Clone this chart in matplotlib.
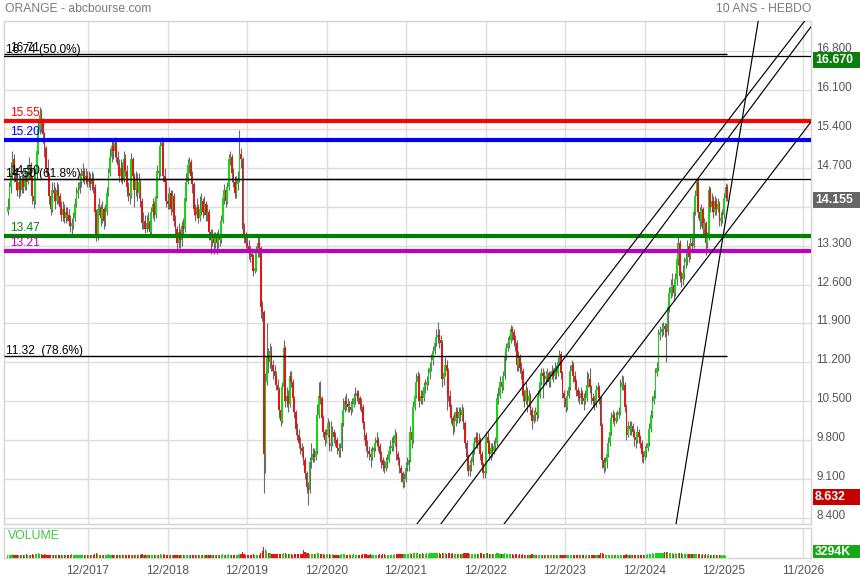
import numpy as np
import matplotlib
matplotlib.use("Agg")
import matplotlib.pyplot as plt
import matplotlib.transforms as mtransforms
from matplotlib.patches import Rectangle

plt.rcParams['font.family'] = ['Liberation Sans', 'DejaVu Sans']

# ---- weekly ORANGE quotes (EUR) ----
first_open = 13.90
close = [
    14.00, 14.35, 14.60, 14.85, 14.60, 14.45, 14.30, 14.45, 14.30, 14.50,
    14.35, 14.55, 14.45, 14.60, 14.75, 14.50, 14.20, 14.10, 14.60, 15.00,
    15.40, 15.65, 15.55, 15.30, 15.05, 14.70, 14.55, 14.20, 13.95, 14.30,
    14.25, 14.10, 14.30, 14.20, 14.00, 13.85, 13.95, 13.80, 13.90, 13.85,
    13.75, 13.65, 13.70, 13.80, 14.05, 14.25, 14.30, 14.45, 14.55, 14.65,
    14.50, 14.55, 14.45, 14.50, 14.40, 14.50, 14.35, 13.90, 13.45, 13.95,
    14.00, 13.80, 13.95, 13.75, 13.90, 14.25, 14.60, 14.90, 15.10, 15.00,
    15.15, 14.90, 14.75, 14.55, 14.70, 14.50, 14.85, 14.65, 14.35, 14.25,
    14.20, 14.85, 14.55, 14.30, 14.50, 14.25, 14.45, 14.10, 13.70, 13.75,
    13.60, 13.70, 13.75, 13.55, 13.90, 14.05, 13.85, 14.20, 14.65, 14.60,
    15.10, 15.15, 14.55, 14.45, 14.10, 14.05, 14.25, 13.95, 14.20, 13.75,
    13.60, 13.35, 13.55, 13.40, 13.65, 13.60, 14.15, 14.45, 14.75, 14.80,
    14.55, 14.40, 13.95, 13.85, 14.00, 13.80, 13.95, 14.10, 13.90, 14.05,
    13.85, 13.90, 13.55, 13.40, 13.50, 13.35, 13.45, 13.35, 13.50, 13.40,
    13.75, 14.15, 14.30, 14.10, 14.35, 14.85, 14.90, 14.60, 14.45, 14.25,
    14.40, 14.50, 14.95, 14.85, 13.60, 13.45, 13.35, 13.30, 13.20, 13.15,
    13.10, 12.85, 12.90, 13.20, 13.35, 13.25, 12.20, 12.10, 9.55, 10.85,
    11.30, 11.20, 11.40, 11.15, 11.05, 10.95, 10.80, 10.70, 10.35, 10.15,
    10.75, 11.45, 10.50, 10.60, 10.45, 10.95, 10.85, 10.55, 10.30, 10.00,
    9.90, 9.75, 9.65, 9.60, 9.45, 9.20, 8.95, 8.90, 9.40, 9.45,
    9.55, 9.50, 9.60, 10.25, 10.60, 10.55, 10.20, 9.95, 9.80, 9.90,
    10.10, 9.70, 9.75, 9.95, 9.85, 9.80, 9.65, 9.60, 9.65, 10.10,
    10.35, 10.50, 10.45, 10.40, 10.40, 10.35, 10.45, 10.55, 10.60, 10.65,
    10.55, 10.45, 10.40, 10.10, 9.90, 9.70, 9.60, 9.55, 9.50, 9.60,
    9.65, 9.75, 9.80, 9.70, 9.55, 9.45, 9.35, 9.30, 9.40, 9.45,
    9.60, 9.65, 9.70, 9.75, 9.90, 9.55, 9.45, 9.30, 9.20, 9.05,
    9.10, 9.30, 9.35, 9.45, 9.95, 9.80, 10.40, 10.60, 10.85, 10.95,
    10.50, 10.60, 10.55, 10.75, 10.80, 10.85, 11.00, 11.10, 11.25, 11.40,
    11.55, 11.65, 11.70, 11.60, 11.55, 10.90, 11.00, 11.15, 11.05, 10.60,
    10.40, 10.20, 10.05, 10.15, 10.30, 10.20, 10.30, 10.25, 10.35, 10.10,
    9.75, 9.50, 9.25, 9.35, 9.40, 9.60, 9.75, 9.85, 9.75, 9.80,
    9.55, 9.35, 9.20, 9.25, 9.85, 9.75, 9.55, 9.65, 9.60, 9.70,
    9.75, 10.55, 10.60, 10.85, 10.75, 10.95, 11.30, 11.45, 11.55, 11.60,
    11.80, 11.75, 11.60, 11.55, 11.15, 11.30, 11.10, 11.05, 10.60, 10.50,
    10.70, 10.50, 10.60, 10.35, 10.15, 10.25, 10.30, 10.25, 10.60, 10.85,
    11.00, 10.95, 10.90, 10.95, 11.00, 10.85, 10.95, 11.05, 10.95, 11.10,
    11.00, 11.20, 11.35, 11.00, 10.65, 10.55, 10.40, 10.60, 10.75, 11.05,
    11.15, 10.95, 10.85, 10.70, 10.60, 10.55, 10.65, 10.55, 10.50, 10.55,
    10.80, 10.90, 10.75, 10.55, 10.50, 10.45, 10.70, 10.75, 10.55, 10.05,
    9.45, 9.30, 9.40, 9.55, 9.75, 9.95, 10.20, 10.25, 10.15, 10.20,
    10.25, 10.30, 10.75, 10.85, 10.80, 10.40, 9.90, 10.05, 10.00, 10.05,
    9.95, 9.85, 9.80, 9.95, 9.85, 9.75, 9.55, 9.50, 9.60, 9.65,
    9.75, 10.00, 10.25, 10.50, 10.60, 11.00, 11.10, 11.70, 11.75, 11.80,
    11.85, 11.80, 11.75, 12.20, 12.45, 12.55, 12.60, 12.45, 12.70, 13.05,
    13.35, 12.75, 12.70, 12.80, 13.00, 13.05, 13.30, 13.10, 13.35, 13.30,
    13.90, 14.20, 14.45, 13.90, 13.75, 13.95, 13.60, 13.70, 13.35, 13.45,
    14.30, 14.00, 14.10, 13.90, 14.10, 13.95, 14.05, 13.75, 13.80, 13.85,
    14.15, 14.35, 14.155,
]
high = [
    14.15, 14.45, 14.80, 15.00, 14.95, 14.70, 14.55, 14.60, 14.55, 14.65,
    14.60, 14.70, 14.65, 14.75, 14.90, 14.80, 14.55, 14.30, 14.70, 15.10,
    15.55, 15.79, 15.75, 15.60, 15.35, 15.10, 14.85, 14.60, 14.25, 14.45,
    14.45, 14.35, 14.45, 14.40, 14.25, 14.10, 14.10, 14.05, 14.00, 14.00,
    13.95, 13.85, 13.80, 13.90, 14.15, 14.35, 14.45, 14.60, 14.70, 14.78,
    14.70, 14.70, 14.65, 14.65, 14.60, 14.65, 14.60, 14.40, 13.95, 14.05,
    14.15, 14.05, 14.10, 14.00, 14.05, 14.35, 14.70, 15.05, 15.20, 15.22,
    15.25, 15.20, 15.00, 14.85, 14.85, 14.80, 15.00, 14.95, 14.75, 14.45,
    14.40, 14.97, 14.90, 14.60, 14.65, 14.60, 14.60, 14.50, 14.15, 13.90,
    13.85, 13.85, 13.90, 13.80, 14.00, 14.15, 14.10, 14.30, 14.75, 14.80,
    15.20, 15.26, 15.20, 14.70, 14.50, 14.25, 14.35, 14.30, 14.30, 14.25,
    13.85, 13.65, 13.70, 13.60, 13.75, 13.80, 14.25, 14.60, 14.85, 14.90,
    14.85, 14.65, 14.45, 14.05, 14.15, 14.05, 14.20, 14.25, 14.15, 14.20,
    14.10, 14.05, 13.95, 13.60, 13.60, 13.55, 13.55, 13.55, 13.60, 13.60,
    13.85, 14.25, 14.40, 14.35, 14.45, 14.95, 15.00, 14.95, 14.70, 14.55,
    14.55, 14.65, 15.38, 15.05, 14.90, 13.70, 13.55, 13.45, 13.40, 13.30,
    13.25, 13.15, 13.05, 13.30, 13.50, 13.45, 13.30, 12.30, 12.15, 11.00,
    11.90, 11.45, 11.55, 11.50, 11.25, 11.15, 11.05, 10.90, 10.75, 10.45,
    10.85, 11.60, 11.50, 10.75, 10.70, 11.05, 11.05, 10.90, 10.60, 10.35,
    10.10, 10.00, 9.85, 9.75, 9.70, 9.50, 9.25, 9.05, 9.50, 9.75,
    9.65, 9.65, 9.80, 10.45, 10.85, 10.87, 10.60, 10.25, 10.00, 10.00,
    10.20, 10.15, 10.15, 10.05, 10.00, 9.95, 9.85, 9.75, 9.75, 10.20,
    10.55, 10.60, 10.65, 10.55, 10.50, 10.50, 10.55, 10.65, 10.75, 10.70,
    10.70, 10.60, 10.55, 10.45, 10.15, 9.95, 9.80, 9.70, 9.65, 9.70,
    9.75, 9.85, 9.95, 9.85, 9.75, 9.60, 9.50, 9.45, 9.50, 9.55,
    9.70, 9.80, 9.85, 9.90, 10.00, 9.95, 9.60, 9.50, 9.35, 9.25,
    9.20, 9.40, 9.50, 9.55, 10.05, 10.00, 10.50, 10.70, 11.00, 11.05,
    11.00, 10.70, 10.70, 10.85, 10.90, 10.95, 11.10, 11.20, 11.35, 11.50,
    11.65, 11.80, 11.93, 11.80, 11.70, 11.60, 11.15, 11.30, 11.25, 11.10,
    10.70, 10.45, 10.25, 10.30, 10.40, 10.40, 10.40, 10.40, 10.45, 10.40,
    10.15, 9.80, 9.55, 9.45, 9.50, 9.70, 9.85, 9.95, 9.95, 9.92,
    9.85, 9.60, 9.40, 9.35, 9.95, 9.95, 9.80, 9.75, 9.75, 9.80,
    9.85, 10.65, 10.75, 10.95, 10.95, 11.05, 11.40, 11.55, 11.65, 11.70,
    11.87, 11.85, 11.80, 11.70, 11.60, 11.40, 11.35, 11.20, 11.10, 10.70,
    10.85, 10.75, 10.70, 10.65, 10.40, 10.35, 10.40, 10.40, 10.70, 10.95,
    11.10, 11.10, 11.05, 11.05, 11.10, 11.05, 11.05, 11.15, 11.10, 11.20,
    11.15, 11.30, 11.42, 11.40, 11.05, 10.70, 10.60, 10.70, 10.85, 11.15,
    11.25, 11.20, 11.05, 10.90, 10.75, 10.70, 10.75, 10.70, 10.65, 10.70,
    11.05, 11.00, 11.10, 10.80, 10.65, 10.60, 10.80, 10.85, 10.80, 10.60,
    10.10, 9.50, 9.50, 9.65, 9.85, 10.05, 10.30, 10.35, 10.30, 10.30,
    10.35, 10.40, 10.90, 10.98, 10.95, 10.85, 10.45, 10.15, 10.15, 10.15,
    10.10, 10.00, 9.95, 10.05, 10.00, 9.90, 9.80, 9.60, 9.70, 9.75,
    9.85, 10.10, 10.35, 10.60, 10.70, 11.10, 11.20, 11.80, 11.85, 11.90,
    11.92, 11.90, 11.90, 12.30, 12.55, 12.70, 12.80, 12.65, 12.80, 13.15,
    13.45, 13.40, 12.85, 12.95, 13.10, 13.20, 13.40, 13.35, 13.45, 13.45,
    14.00, 14.30, 14.52, 14.50, 14.00, 14.05, 14.00, 13.80, 13.75, 13.55,
    14.37, 14.35, 14.25, 14.20, 14.20, 14.15, 14.15, 14.10, 13.90, 13.95,
    14.25, 14.42, 14.40,
]
low = [
    13.85, 13.95, 14.25, 14.50, 14.45, 14.30, 14.20, 14.15, 14.20, 14.25,
    14.25, 14.30, 14.30, 14.40, 14.50, 14.35, 14.05, 13.98, 14.05, 14.50,
    14.95, 15.30, 15.35, 15.15, 14.90, 14.60, 14.40, 14.05, 13.85, 13.90,
    14.10, 13.95, 14.05, 14.05, 13.90, 13.75, 13.75, 13.70, 13.70, 13.75,
    13.65, 13.55, 13.50, 13.60, 13.75, 14.00, 14.15, 14.25, 14.35, 14.45,
    14.40, 14.40, 14.35, 14.35, 14.30, 14.30, 14.25, 13.80, 13.38, 13.40,
    13.85, 13.65, 13.70, 13.60, 13.65, 13.85, 14.20, 14.55, 14.80, 14.85,
    14.90, 14.80, 14.60, 14.45, 14.45, 14.40, 14.45, 14.55, 14.20, 14.10,
    14.05, 14.15, 14.40, 14.00, 14.20, 14.10, 14.15, 14.00, 13.60, 13.60,
    13.52, 13.55, 13.60, 13.48, 13.50, 13.80, 13.75, 13.80, 14.15, 14.50,
    14.55, 15.00, 14.45, 14.35, 14.00, 13.95, 13.95, 13.85, 13.90, 13.65,
    13.45, 13.17, 13.25, 13.25, 13.30, 13.50, 13.55, 14.10, 14.40, 14.60,
    14.45, 14.25, 13.85, 13.75, 13.80, 13.70, 13.75, 13.85, 13.80, 13.85,
    13.75, 13.75, 13.40, 13.15, 13.30, 13.14, 13.25, 13.15, 13.25, 13.30,
    13.35, 13.70, 14.05, 14.00, 14.05, 14.30, 14.75, 14.45, 14.35, 14.15,
    14.15, 14.30, 14.45, 14.70, 13.50, 13.35, 13.25, 13.20, 13.05, 13.00,
    12.95, 12.75, 12.80, 12.85, 13.10, 13.10, 12.00, 11.95, 8.85, 9.20,
    10.80, 11.00, 11.10, 11.05, 10.90, 10.85, 10.70, 10.55, 10.20, 10.05,
    10.10, 10.70, 10.40, 10.40, 10.30, 10.40, 10.75, 10.40, 10.20, 9.90,
    9.80, 9.65, 9.55, 9.50, 9.35, 9.10, 8.85, 8.632, 8.85, 9.30,
    9.40, 9.40, 9.45, 9.55, 10.20, 10.45, 10.10, 9.85, 9.70, 9.75,
    9.85, 9.60, 9.60, 9.70, 9.75, 9.70, 9.55, 9.50, 9.50, 9.60,
    10.05, 10.30, 10.35, 10.30, 10.30, 10.25, 10.30, 10.40, 10.45, 10.50,
    10.45, 10.35, 10.30, 10.00, 9.80, 9.60, 9.50, 9.45, 9.32, 9.45,
    9.50, 9.60, 9.70, 9.60, 9.40, 9.30, 9.25, 9.20, 9.25, 9.30,
    9.40, 9.55, 9.60, 9.60, 9.70, 9.45, 9.35, 9.20, 9.05, 8.94,
    8.95, 9.05, 9.25, 9.25, 9.40, 9.65, 9.75, 10.35, 10.55, 10.80,
    10.40, 10.45, 10.45, 10.50, 10.65, 10.70, 10.80, 10.90, 11.05, 11.15,
    11.35, 11.50, 11.55, 11.45, 11.40, 10.75, 10.80, 10.95, 10.35, 10.50,
    10.30, 10.10, 9.90, 9.95, 10.05, 10.10, 10.10, 10.15, 10.15, 10.00,
    9.65, 9.40, 9.15, 9.15, 9.25, 9.35, 9.55, 9.65, 9.65, 9.65,
    9.45, 9.25, 9.12, 9.12, 9.20, 9.65, 9.45, 9.45, 9.50, 9.55,
    9.60, 9.70, 10.45, 10.55, 10.65, 10.70, 10.90, 11.25, 11.40, 11.45,
    11.55, 11.60, 11.50, 11.40, 11.05, 11.05, 11.00, 10.90, 10.50, 10.40,
    10.45, 10.30, 10.40, 10.25, 10.00, 10.10, 10.15, 10.15, 10.20, 10.55,
    10.80, 10.55, 10.80, 10.80, 10.85, 10.75, 10.75, 10.90, 10.85, 10.90,
    10.90, 10.95, 11.15, 10.90, 10.55, 10.40, 10.30, 10.35, 10.55, 10.70,
    11.00, 10.85, 10.75, 10.60, 10.50, 10.45, 10.45, 10.45, 10.35, 10.45,
    10.50, 10.75, 10.65, 10.45, 10.40, 10.35, 10.40, 10.60, 10.45, 9.95,
    9.30, 9.20, 9.25, 9.30, 9.50, 9.70, 9.90, 10.10, 10.05, 10.10,
    10.15, 10.20, 10.25, 10.70, 10.70, 10.30, 9.80, 9.85, 9.90, 9.90,
    9.85, 9.70, 9.65, 9.75, 9.75, 9.65, 9.40, 9.38, 9.45, 9.50,
    9.60, 9.70, 9.95, 10.20, 10.45, 10.55, 10.95, 11.05, 11.60, 11.65,
    11.70, 11.65, 11.20, 11.70, 12.10, 12.35, 12.40, 12.30, 12.40, 12.60,
    12.95, 12.65, 12.55, 12.60, 12.70, 12.90, 12.95, 13.00, 13.05, 13.20,
    13.25, 13.85, 14.10, 13.80, 13.60, 13.65, 13.50, 13.45, 13.13, 13.25,
    13.40, 13.90, 13.90, 13.80, 13.85, 13.85, 13.90, 13.65, 13.65, 13.70,
    13.80, 14.10, 14.10,
]
# weekly volume, millions of shares
volume = [
    30, 34, 29, 36, 31, 27, 33, 29, 35, 30, 28, 32, 38, 31, 27, 35, 40, 33, 36, 45,
    48, 42, 37, 34, 39, 31, 29, 35, 33, 30, 27, 32, 29, 26, 31, 34, 28, 30, 27, 33,
    29, 31, 36, 30, 28, 34, 32, 27, 30, 33, 26, 29, 31, 28, 33, 30, 35, 41, 47, 36,
    33, 30, 28, 32, 29, 34, 37, 33, 30, 35, 31, 28, 32, 27, 30, 26, 33, 29, 31, 28,
    30, 35, 32, 28, 31, 27, 29, 33, 38, 31, 29, 27, 30, 34, 28, 32, 27, 30, 35, 31,
    38, 33, 36, 31, 29, 33, 27, 30, 32, 35, 31, 34, 28, 30, 27, 29, 35, 33, 31, 28,
    30, 27, 33, 29, 26, 31, 28, 30, 27, 29, 26, 28, 34, 30, 27, 31, 26, 29, 27, 30,
    32, 36, 30, 28, 33, 38, 31, 29, 27, 30, 28, 32, 41, 36, 58, 40, 33, 30, 29, 31,
    34, 37, 30, 33, 29, 31, 55, 72, 110, 92, 68, 54, 47, 44, 40, 42, 38, 36, 41, 39,
    45, 50, 46, 40, 38, 44, 37, 35, 39, 41, 38, 36, 40, 43, 78, 58, 48, 52, 45, 42,
    39, 36, 38, 47, 51, 44, 40, 37, 35, 38, 41, 36, 34, 39, 33, 35, 32, 34, 31, 40,
    42, 38, 35, 33, 36, 31, 34, 37, 35, 32, 30, 33, 31, 38, 36, 40, 35, 33, 38, 34,
    31, 33, 30, 35, 37, 34, 38, 36, 33, 31, 35, 32, 30, 34, 39, 36, 38, 40, 42, 45,
    43, 40, 44, 38, 48, 45, 52, 47, 50, 46, 44, 42, 48, 45, 43, 47, 44, 49, 46, 51,
    48, 53, 50, 47, 45, 55, 49, 46, 44, 48, 46, 43, 50, 45, 42, 44, 41, 45, 43, 47,
    50, 46, 48, 44, 42, 45, 41, 43, 40, 44, 46, 49, 45, 42, 52, 47, 43, 40, 42, 45,
    41, 55, 48, 44, 40, 42, 46, 43, 39, 41, 38, 36, 35, 40, 37, 34, 36, 33, 39, 35,
    32, 34, 31, 33, 36, 30, 29, 31, 28, 33, 30, 32, 29, 27, 31, 28, 30, 26, 29, 27,
    30, 28, 33, 31, 29, 27, 30, 28, 32, 29, 31, 28, 26, 30, 27, 29, 26, 28, 30, 27,
    29, 31, 28, 30, 27, 29, 26, 28, 33, 48, 52, 40, 35, 33, 30, 32, 29, 31, 28, 30,
    29, 27, 33, 31, 30, 34, 38, 32, 29, 31, 28, 30, 27, 29, 31, 33, 35, 30, 32, 34,
    38, 42, 45, 48, 44, 50, 47, 55, 52, 49,
    53, 58, 62, 56, 50, 47, 52, 45, 49, 44, 48, 53, 46, 42, 45, 40, 43, 38, 41, 36,
    44, 40, 38, 41, 36, 34, 37, 33, 39, 35, 40, 32, 30, 28, 31, 27, 29, 26, 28, 25,
    27, 24, 3.294,
]
first_week = 2016.909          # decimal year of the first weekly bar
week = 7 / 365.25

# ---- drawn levels ----
level_values = [16.71, 15.55, 15.20, 14.50, 13.47, 13.21]
level_colors = ['#000000', '#ff0000', '#0000ff', '#000000', '#008000', '#c000c0']
level_widths = [0.9, 3.0, 3.0, 0.9, 3.0, 3.0]
fib_values = [16.74, 14.50, 11.32]
fib_ratios = ['(50.0%)', '(61.8%)', ' (78.6%)']
# trend lines: two anchor points each (decimal year, price)
trend_x = [(2022.0, 2027.2), (2022.0, 2027.2), (2023.0, 2027.2), (2025.2, 2026.5)]
trend_y = [(8.19, 17.84), (7.61, 17.60), (8.01, 15.88), (7.30, 18.68)]

# ---- axis settings ----
price_ticks = [8.4, 9.1, 9.8, 10.5, 11.2, 11.9, 12.6, 13.3, 14.0, 14.7, 15.4, 16.1, 16.8]
x_ticks = [2017.917, 2018.917, 2019.917, 2020.917, 2021.917, 2022.917,
           2023.917, 2024.917, 2025.917, 2026.91]
x_labels = ['12/2017', '12/2018', '12/2019', '12/2020', '12/2021', '12/2022',
            '12/2023', '12/2024', '12/2025', '11/2026']
x_range = (2016.860, 2027.011)
price_range = (8.291, 17.341)

GRID = '#dddddd'
TXT = '#555555'
UP, DOWN, WICK = '#19d319', '#e21616', '#6a6a6a'

c = np.array(close, dtype=float)
h = np.array(high, dtype=float)
l = np.array(low, dtype=float)
v = np.array(volume, dtype=float)
assert len(c) == len(h) == len(l) == len(v)
o = np.concatenate([[first_open], c[:-1]])
t = first_week + np.arange(len(c)) * week
h = np.maximum(h, np.maximum(o, c))
l = np.minimum(l, np.minimum(o, c))
rising = c >= o
colors = np.where(rising, UP, DOWN)

fig = plt.figure(figsize=(8.6, 5.8), dpi=100)
W, H = 860.0, 580.0
ax = fig.add_axes([4 / W, 1 - 524 / H, 807 / W, 503 / H])
axv = fig.add_axes([4 / W, 1 - 558 / H, 807 / W, 30 / H])

for a in (ax, axv):
    a.set_xlim(*x_range)
    a.set_xticks(x_ticks)
    a.grid(True, color=GRID, lw=1.0, zorder=0)
    a.set_axisbelow(True)
    for s in a.spines.values():
        s.set_color('#d4d4d4')
        s.set_linewidth(1.0)

# price panel
ax.set_ylim(*price_range)
ax.set_yticks(price_ticks)
ax.set_yticklabels([f'{p:.3f}' for p in price_ticks])
ax.yaxis.tick_right()
ax.tick_params(axis='y', length=0, pad=4, labelsize=8.4, labelcolor=TXT)
ax.tick_params(axis='x', length=0, labelbottom=False)
lift = mtransforms.ScaledTranslation(0, 3.5 / 100, fig.dpi_scale_trans)
for lab in ax.get_yticklabels():
    lab.set_transform(lab.get_transform() + lift)

ax.vlines(t, l, h, color=WICK, lw=0.8, zorder=2)
body = np.maximum(np.abs(c - o), 0.02)
ax.bar(t, body, bottom=np.minimum(o, c), width=1.15 * week, color=colors,
       linewidth=0, zorder=3)

# Fibonacci levels stop at the last bar
for val, ratio in zip(fib_values, fib_ratios):
    ax.hlines(val, x_range[0], t[-1], color='black', lw=1.0, zorder=5)
    ax.annotate(f'{val:.2f} {ratio}', xy=(x_range[0], val), xytext=(1.5, 1.3),
                textcoords='offset points', ha='left', va='baseline',
                fontsize=8.6, color='black', zorder=6)

# horizontal support / resistance levels
for val, col, lw in zip(level_values, level_colors, level_widths):
    ax.axhline(val, color=col, lw=lw, zorder=5)
    ax.annotate(f'{val:.2f}', xy=(x_range[0], val), xytext=(4.5, 3.6),
                textcoords='offset points', ha='left', va='baseline',
                fontsize=8.6, color=col, zorder=6)

for xs, ys in zip(trend_x, trend_y):
    ax.plot(xs, ys, color='black', lw=0.85, zorder=5)

# value boxes on the right price scale
box_tr = mtransforms.blended_transform_factory(fig.transFigure, ax.transData)
px = 1.0 / 55.58   # price units per pixel
def value_box(val, text, face, shift=0.0):
    yc = val + shift
    fig.patches.append(Rectangle((813 / W, yc - 8 * px), 47 / W, 16 * px,
                                 transform=box_tr, facecolor=face,
                                 edgecolor='none', zorder=10))
    fig.text(815 / W, yc, text, transform=box_tr, ha='left', va='center',
             fontsize=8.8, fontweight='bold', color='white', zorder=11)

value_box(16.67, '16.670', '#0b7e0b', -1.5 * px)
value_box(c[-1], f'{c[-1]:.3f}', '#666666', -2 * px)
value_box(min(low), f'{min(low):.3f}', '#c40000', 8.5 * px)

# volume panel
axv.set_ylim(0, 300)
axv.set_yticks([])
axv.bar(t, v, width=0.75 * week, color=colors, linewidth=0, zorder=3)
axv.set_xticklabels(x_labels)
axv.tick_params(axis='x', length=0, pad=5, labelsize=8.6, labelcolor=TXT)
axv.text(0.005, 0.72, 'VOLUME', transform=axv.transAxes, color='#3cc83c',
         fontsize=8.8, va='center', ha='left')
vol_tr = mtransforms.blended_transform_factory(fig.transFigure, axv.transAxes)
fig.patches.append(Rectangle((813 / W, 0.0), 47 / W, 0.45, transform=vol_tr,
                             facecolor='#16a816', edgecolor='none', zorder=10))
fig.text(815 / W, 0.21, f'{int(round(v[-1] * 1000))}K', transform=vol_tr,
         ha='left', va='center', fontsize=8.8, fontweight='bold',
         color='white', zorder=11)

fig.text(5 / W, 1 - 9 / H, 'ORANGE - abcbourse.com', color='#7a7a7a',
         fontsize=8.7, ha='left', va='center')
fig.text(811 / W, 1 - 9 / H, '10 ANS - HEBDO', color='#7a7a7a',
         fontsize=8.7, ha='right', va='center')

fig.savefig('out.png', dpi=100)
